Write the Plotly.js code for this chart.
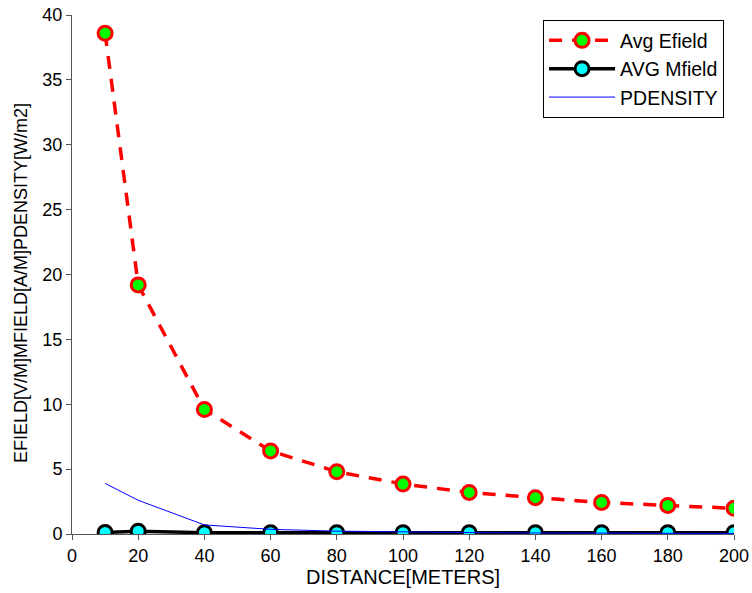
<!DOCTYPE html>
<html>
<head>
<meta charset="utf-8">
<script src="https://cdn.plot.ly/plotly-3.0.1.min.js"></script>
<style>html,body{margin:0;padding:0;background:#fff;}#chart{width:752px;height:593px;}</style>
</head>
<body>
<div id="chart"></div>
<script>
const distance = [10, 20, 40, 60, 80, 100, 120, 140, 160, 180, 200];
const avgEfield = [38.6, 19.2, 9.6, 6.4, 4.8, 3.85, 3.2, 2.8, 2.43, 2.2, 1.98];
const avgMfield = [0.12, 0.22, 0.1, 0.1, 0.1, 0.1, 0.1, 0.1, 0.1, 0.1, 0.1];
const pdensity = [3.9, 2.6, 0.7, 0.36, 0.22, 0.15, 0.11, 0.08, 0.06, 0.05, 0.04];
const xTicks = [0, 20, 40, 60, 80, 100, 120, 140, 160, 180, 200];
const yTicks = [0, 5, 10, 15, 20, 25, 30, 35, 40];

const traces = [
  {x: distance, y: avgEfield, name: 'Avg Efield', mode: 'lines+markers', type: 'scatter',
   line: {color: '#ff0000', width: 3.5, dash: '13px,10px'},
   marker: {size: 14, color: '#00ff00', line: {color: '#ff0000', width: 3}}},
  {x: distance, y: avgMfield, name: 'AVG Mfield', mode: 'lines+markers', type: 'scatter',
   line: {color: '#000000', width: 3.5},
   marker: {size: 14, color: '#00ffff', line: {color: '#000000', width: 3}}},
  {x: distance, y: pdensity, name: 'PDENSITY', mode: 'lines', type: 'scatter',
   line: {color: '#0000ff', width: 1}}
];

const fam = 'Liberation Sans, Arial, sans-serif';
const tickFont = {family: fam, size: 18, color: '#000'};
const layout = {
  width: 752, height: 593,
  margin: {l: 72, r: 18, t: 15, b: 59},
  paper_bgcolor: '#fff', plot_bgcolor: '#fff',
  font: {family: fam, size: 18, color: '#000'},
  showlegend: true,
  legend: {x: 0.985, y: 0.99, xanchor: 'right', yanchor: 'top',
    bgcolor: '#fff', bordercolor: '#000', borderwidth: 1, itemwidth: 66,
    font: {family: fam, size: 19.5, color: '#000'}},
  xaxis: {range: [0, 200], tickvals: xTicks, ticks: 'outside', ticklen: 5, tickcolor: '#555',
    showline: true, linecolor: '#555', linewidth: 1, showgrid: false, zeroline: false,
    ticklabeloverflow: 'allow',
    tickfont: tickFont, title: {text: 'DISTANCE[METERS]', font: {family: fam, size: 20, color: '#000'}, standoff: 4}},
  yaxis: {range: [0, 40], tickvals: yTicks, ticks: 'outside', ticklen: 5, tickcolor: '#555',
    showline: true, linecolor: '#555', linewidth: 1, showgrid: false, zeroline: false,
    tickfont: tickFont},
  annotations: [{text: 'EFIELD[V/M]MFIELD[A/M]PDENSITY[W/m2]', xref: 'paper', yref: 'paper',
    x: -0.076, y: 0.483, xanchor: 'center', yanchor: 'middle', textangle: -90, showarrow: false,
    font: {family: fam, size: 18, color: '#000'}}]
};
Plotly.newPlot('chart', traces, layout, {displayModeBar: false, staticPlot: true});
</script>
</body>
</html>
